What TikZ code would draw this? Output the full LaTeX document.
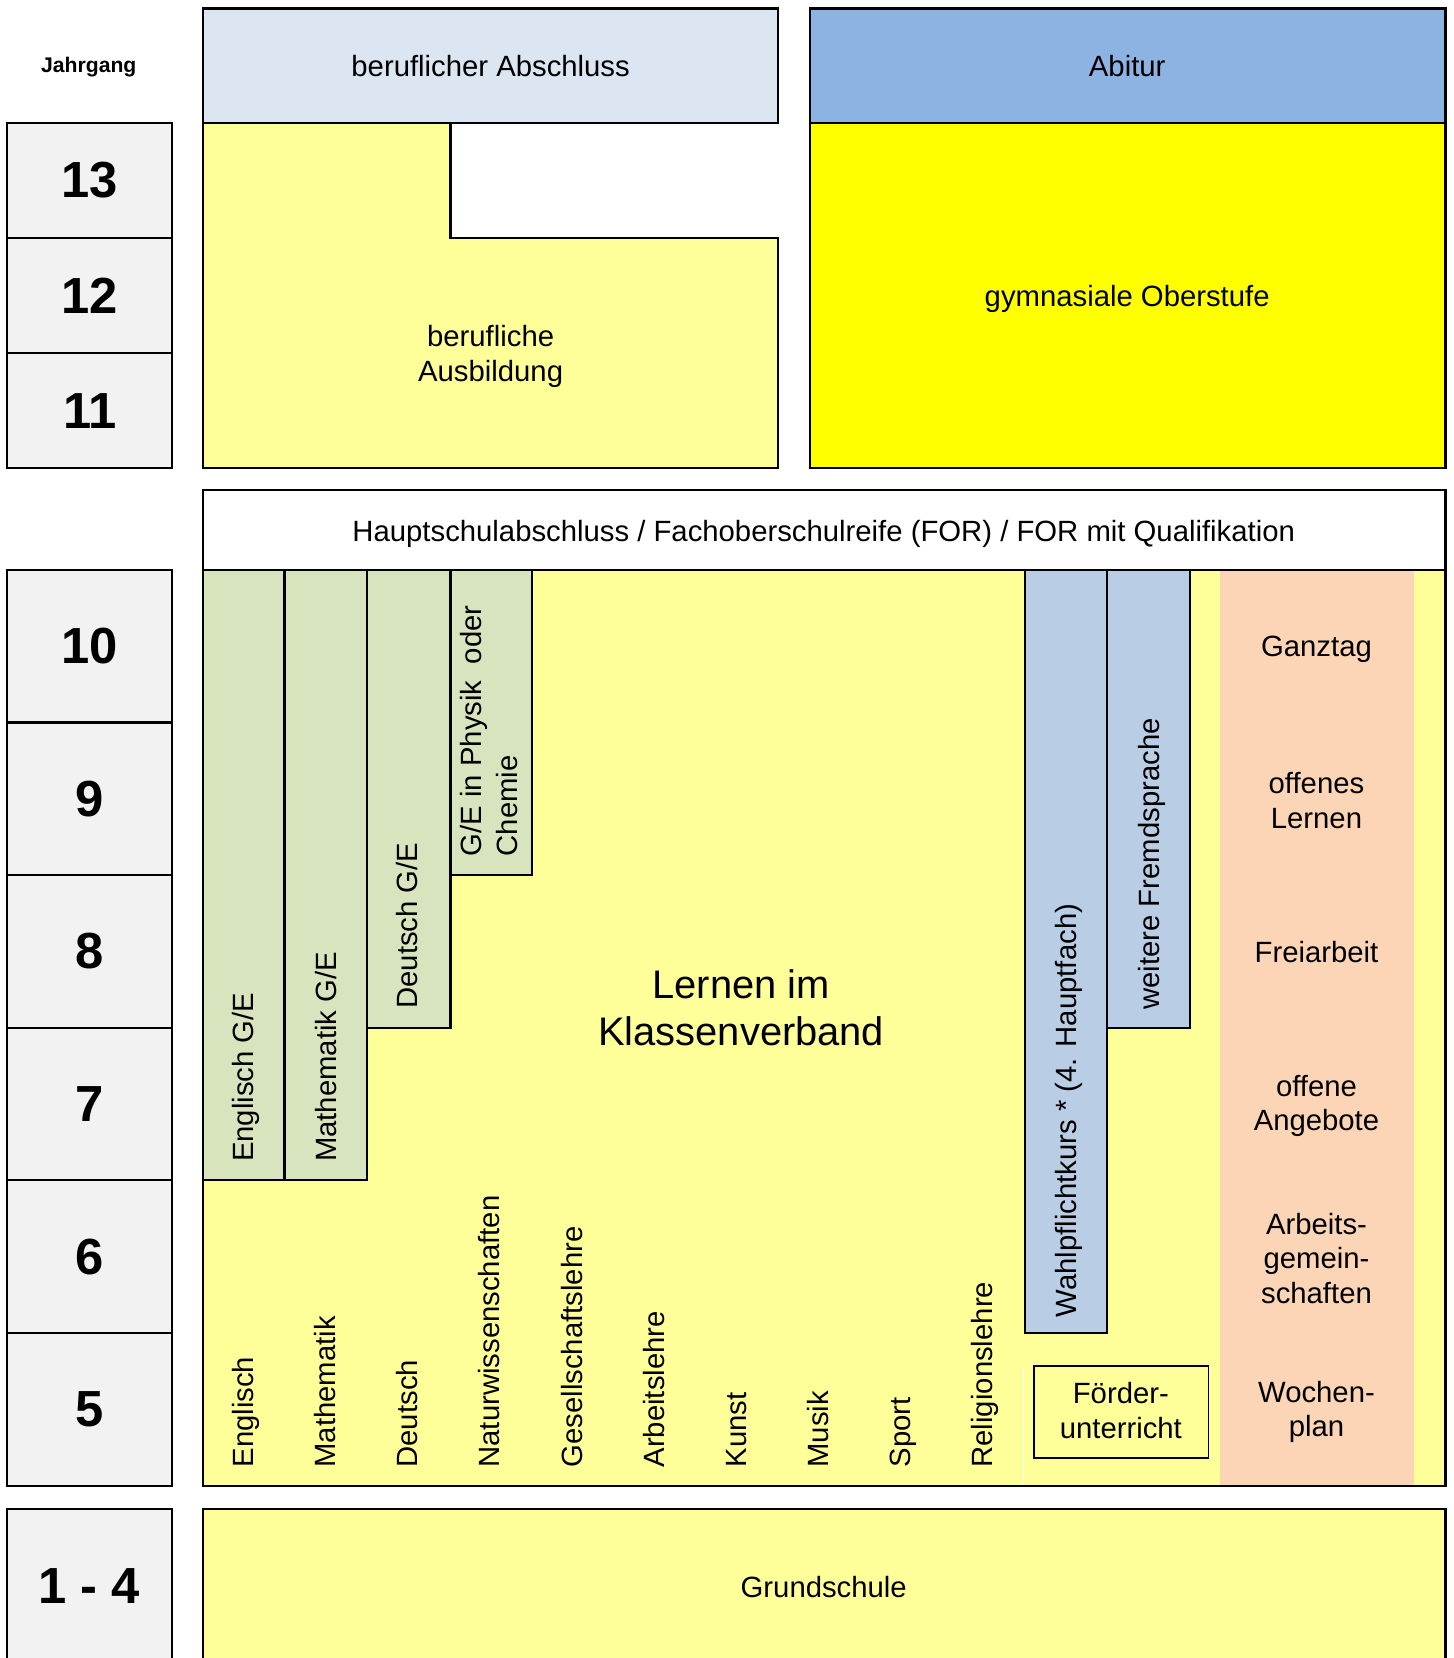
\documentclass[tikz,border=0pt]{standalone}
\usepackage{fontspec}
\setmainfont{Liberation Sans}
\definecolor{yrgray}{HTML}{F2F2F2}
\definecolor{lblue}{HTML}{DCE6F2}
\definecolor{abiblue}{HTML}{8DB3E2}
\definecolor{lyellow}{HTML}{FFFF99}
\definecolor{gyellow}{HTML}{FFFF00}
\definecolor{lgreen}{HTML}{D7E4BD}
\definecolor{mblue}{HTML}{B9CDE5}
\definecolor{lorange}{HTML}{FBD5B5}
\newcommand{\txtN}{\fontsize{27.7pt}{32.5pt}\selectfont}
\newcommand{\txtBig}{\fontsize{37.7pt}{44pt}\selectfont}
\newcommand{\txtYear}{\fontsize{48pt}{50pt}\selectfont\bfseries}
\newcommand{\txtJahr}{\fontsize{20pt}{24pt}\selectfont\bfseries}
\begin{document}
\begin{tikzpicture}[x=1pt,y=-1pt,
  box/.style={draw=black, line width=2pt},
  lbl/.style={inner sep=0pt, align=center, font=\txtN},
  vlbl/.style={rotate=90, anchor=base west, inner sep=0pt, font=\txtN},
  yearlbl/.style={inner sep=0pt, font=\txtYear},
  artifact/.style={draw=white, line width=1pt}]
\useasboundingbox (0,0) rectangle (1375,1568);
\fill[white] (0,0) rectangle (1375,1568);

% Jahrgang column
\node[inner sep=0pt, font=\txtJahr] (jahrgang) at (84,63.5) {Jahrgang};
\foreach \n/\a/\b in {13/116/225, 12/225/334, 11/334/443,
   10/539/683.3, 9/683.3/827.7, 8/827.7/972, 7/972/1116.3, 6/1116.3/1260.7, 5/1260.7/1405}{
  \draw[box, fill=yrgray] (7,\a) rectangle (163,\b);
  \node[yearlbl] (y\n) at (85,{(\a+\b)/2}) {\n};
}
\draw[box, fill=yrgray] (7,1600) -- (7,1427) -- (163,1427) -- (163,1600);
\node[yearlbl] (y14) at (84,1500) {1 - 4};

% upper section
\draw[box, fill=lyellow] (192,116) -- (426,116) -- (426,225) -- (736,225) -- (736,443) -- (192,443) -- cycle;
\node[lbl] (ausb) at (464,337) {berufliche\\Ausbildung};
\draw[box, fill=lblue] (192,8) rectangle (736,116);
\node[lbl] (babschl) at (464,62) {beruflicher Abschluss};
\draw[box, fill=gyellow] (766,116) rectangle (1367,443);
\node[lbl] (gym) at (1066,283) {gymnasiale Oberstufe};
\draw[box, fill=abiblue] (766,8) rectangle (1367,116);
\node[lbl] (abi) at (1066,62) {Abitur};

% Hauptschulabschluss bar
\draw[box, fill=white] (192,463) rectangle (1367,539);
\node[lbl] (hsa) at (779,504.5) {Hauptschulabschluss / Fachoberschulreife (FOR) / FOR mit Qualifikation};

% main area
\fill[lyellow] (192,539) rectangle (1367,1405);
\fill[lorange] (1154,539) rectangle (1337,1405);

% green columns
\draw[box, fill=lgreen] (192,539) rectangle (269,1116.3);
\draw[box, fill=lgreen] (269,539) rectangle (347,1116.3);
\draw[box, fill=lgreen] (347,539) rectangle (426,972);
\draw[box, fill=lgreen] (426,539) rectangle (503,827.7);
\node[vlbl] (engge) at (240,1099) {Englisch G/E};
\node[vlbl] (matge) at (318,1099) {Mathematik G/E};
\node[vlbl] (deuge) at (395,954) {Deutsch G/E};
\node[vlbl] (phys1) at (455,810) {G/E in Physik\ \ oder};
\node[vlbl] (phys2) at (489,810) {Chemie};

% blue columns
\draw[box, fill=mblue] (969,539) rectangle (1047,1260.7);
\draw[box, fill=mblue] (1047,539) rectangle (1125,972);
\node[vlbl] (wpk) at (1018,1246) {Wahlpflichtkurs * (4. Hauptfach)};
\node[vlbl] (wfs) at (1097,955) {weitere Fremdsprache};

% thin white line left of the Foerder box
\draw[artifact] (968,1294) -- (968,1404);

% subjects
\foreach \s [count=\i from 0] in {Englisch, Mathematik, Deutsch, Naturwissenschaften, Gesellschaftslehre, Arbeitslehre, Kunst, Musik, Sport, Religionslehre}{
  \node[vlbl] (subj\i) at ({240+77.6*\i},1388) {\s};
}

% centre label
\node[inner sep=0pt, align=center, font=\txtBig] (lik) at (701,953) {Lernen im\\Klassenverband};

% Foerderunterricht
\draw[box, line width=1.6pt] (978,1292) rectangle (1143,1379);
\node[lbl] (foerd) at (1060,1334) {Förder-\\unterricht};

% right column labels
\node[lbl] (ganz) at (1245,614.5) {Ganztag};
\node[lbl] (offl) at (1245,757) {offenes\\Lernen};
\node[lbl] (frei) at (1245,900) {Freiarbeit};
\node[lbl] (offa) at (1245,1046) {offene\\Angebote};
\node[lbl] (ag) at (1245,1190) {Arbeits-\\gemein-\\schaften};
\node[lbl] (woch) at (1245,1335.5) {Wochen-\\plan};

\draw[box] (192,539) rectangle (1367,1405);

% Grundschule
\draw[box, fill=lyellow] (192,1600) -- (192,1427) -- (1367,1427) -- (1367,1600);
\node[lbl] (gs) at (779,1501) {Grundschule};
\end{tikzpicture}
\end{document}
